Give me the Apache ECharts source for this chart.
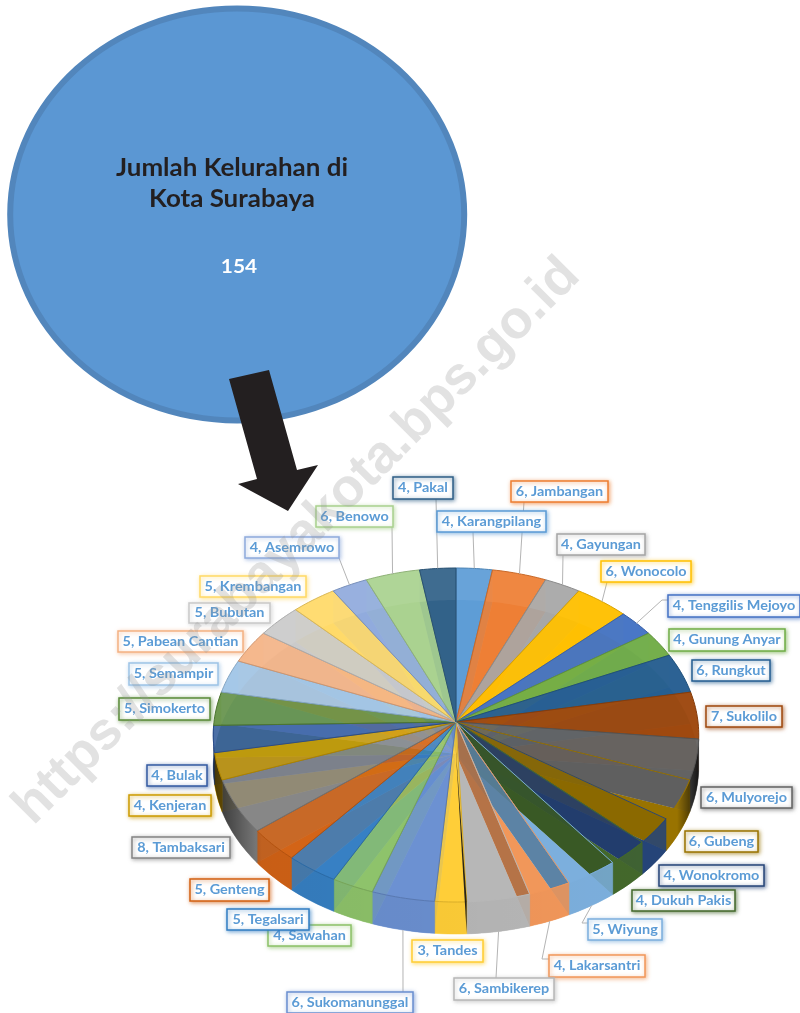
<!DOCTYPE html>
<html>
<head>
<meta charset="utf-8">
<style>html,body{margin:0;padding:0;background:#fff}#c{width:800px;height:1013px}</style>
<script src="https://cdn.jsdelivr.net/npm/echarts@6/dist/echarts.min.js"></script>
</head>
<body>
<div id="c"></div>
<script>
const districts = ["Karangpilang","Jambangan","Gayungan","Wonocolo","Tenggilis Mejoyo","Gunung Anyar","Rungkut","Sukolilo","Mulyorejo","Gubeng","Wonokromo","Dukuh Pakis","Wiyung","Lakarsantri","Sambikerep","Tandes","Sukomanunggal","Sawahan","Tegalsari","Genteng","Tambaksari","Kenjeran","Bulak","Simokerto","Semampir","Pabean Cantian","Bubutan","Krembangan","Asemrowo","Benowo","Pakal"];
const kelurahan = [4,6,4,6,4,4,6,7,6,6,4,4,5,4,6,3,6,4,5,5,8,4,4,5,5,5,5,5,4,6,4];
const titleLines = ["Jumlah Kelurahan di","Kota Surabaya"];
const totalLabel = "154";
const watermark = "https://surabayakota.bps.go.id";

const palette = ["#5B9BD5","#ED7D31","#A5A5A5","#FFC000","#4472C4","#70AD47","#255E91","#9E480E","#636363","#997300","#264478","#43682B","#7CAFDD","#F1975A","#B7B7B7","#FFCD33","#698ED0","#8CC168","#327DC2","#D26012","#848484","#CC9A00","#335AA1","#5A8A39","#9DC3E6","#F4B183","#C9C9C9","#FFD966","#8FAADC","#A9D18E","#2F5F87"];
// label box [x, y, w, h], optional leader attach [x, y] and elbow [x, y]
const labelBoxes = {
 Karangpilang:[437,511,109,21,[473,532]],Jambangan:[511,481,97,21,[524,502]],Gayungan:[557,534,88,21,[563,555]],
 Wonocolo:[601,561,90,21,[607,582]],"Tenggilis Mejoyo":[668,595,132,22,[668,600],[662,600]],"Gunung Anyar":[669,629,116,22],
 Rungkut:[692,660,78,21],Sukolilo:[706,706,76,21],Mulyorejo:[701,787,91,21],Gubeng:[685,831,73,21],Wonokromo:[659,865,105,21],
 "Dukuh Pakis":[632,890,103,21],Wiyung:[588,919,74,21,[588,923],[582,923]],Lakarsantri:[549,955,96,22,[549,959],[542,959]],
 Sambikerep:[454,978,100,22,[496,978]],Tandes:[412,940,71,22],Sukomanunggal:[287,992,126,21,[403,992]],Sawahan:[268,925,83,21],
 Tegalsari:[227,909,82,21],Genteng:[190,879,79,22],Tambaksari:[132,837,98,21],Kenjeran:[129,795,82,21],Bulak:[147,765,60,21],
 Simokerto:[119,698,91,22],Semampir:[129,663,89,22],"Pabean Cantian":[118,631,125,21],Bubutan:[189,603,81,20],Krembangan:[200,576,106,21],
 Asemrowo:[245,537,94,21,[339,558]],Benowo:[316,506,77,21,[392,527]],Pakal:[393,477,60,22,[436,499]]
};
const leaderDepth = {Sambikerep:1,Sukomanunggal:1,Lakarsantri:1,Wiyung:1};
// look of the see-through lower right part of the pie: top-face opacity and end-face shade
const topAlpha = {Wonocolo:.95,"Tenggilis Mejoyo":.96,"Gunung Anyar":.96,Rungkut:.96,Sukolilo:.96,Mulyorejo:.94,Gubeng:0,Wonokromo:0,"Dukuh Pakis":0,Wiyung:0,Lakarsantri:0,Sambikerep:.03};
const endFace = {Mulyorejo:.95,Gubeng:.9,Wonokromo:.9,"Dukuh Pakis":.85,Wiyung:.72,Lakarsantri:.72,Sambikerep:.1};

const CX=456,CY=722,RX=242,RY=166,P=0.0779,DEPTH=32;
const total = kelurahan.reduce((a,b)=>a+b,0);
function proj(a,d){const u=Math.sin(a),v=Math.cos(a),s=1/(1+P*v);return [CX+RX*u*s,CY-RY*v*s+(d||0)];}
function arc(a0,a1,d){const n=Math.max(2,Math.ceil((a1-a0)/0.02)),o=[];for(let i=0;i<=n;i++)o.push(proj(a0+(a1-a0)*i/n,d));return o;}
function rgba(h,al){const n=parseInt(h.slice(1),16);return `rgba(${n>>16},${(n>>8)&255},${n&255},${al})`;}
function shade(h,f,al){const n=parseInt(h.slice(1),16),c=[n>>16,(n>>8)&255,n&255].map(x=>Math.round(x*f));return `rgba(${c[0]},${c[1]},${c[2]},${al===undefined?1:al})`;}
const wallDark={type:'linear',x:213,y:0,x2:699,y2:0,global:true,colorStops:[{offset:0,color:'rgba(0,0,0,.65)'},{offset:.1,color:'rgba(0,0,0,.05)'},{offset:.955,color:'rgba(0,0,0,0)'},{offset:1,color:'rgba(0,0,0,.8)'}]};

function renderSlice(params,api){
 const i=params.dataIndex,name=districts[i],col=palette[i];
 let before=0;for(let k=0;k<i;k++)before+=kelurahan[k];
 const a0=before/total*2*Math.PI,a1=(before+api.value(0))/total*2*Math.PI,mid=(a0+a1)/2;
 const ch=[];
 const top=[[CX,CY]].concat(arc(a0,a1,0));
 const bottom=[[CX,CY+DEPTH]].concat(arc(a0,a1,DEPTH));
 const wall=arc(a0,a1,0).concat(arc(a0,a1,DEPTH).reverse());
 const front=Math.cos(mid)<0;
 const see=topAlpha[name]!==undefined&&topAlpha[name]<.5;
 const tA=topAlpha[name]!==undefined?topAlpha[name]:(i>=15&&i<24?0.84:0.89);
 ch.push({type:'polygon',z2:1,shape:{points:bottom},style:{fill:rgba(col,see||name==='Mulyorejo'?1:0.85),stroke:null}});
 if(endFace[name]!==undefined){
  const e=proj(a1,0),f=proj(a1,DEPTH);
  ch.push({type:'polygon',z2:name==='Sambikerep'?5.5:3,shape:{points:[[CX,CY+(name==='Sambikerep'?30:0)],e,f,[CX,CY+DEPTH]]},style:{fill:shade(col,endFace[name],.9),stroke:null}});
 }
 if(!front) ch.push({type:'polygon',z2:2,shape:{points:wall},style:{fill:rgba(col,0.3),stroke:null}});
 else {
  ch.push({type:'polygon',z2:4,shape:{points:wall},style:{fill:rgba(col,0.88),stroke:rgba(col,.9),lineWidth:.6}});
  ch.push({type:'polygon',z2:4.5,shape:{points:wall},style:{fill:wallDark,stroke:null}});
 }
 ch.push({type:'polygon',z2:5,shape:{points:top},style:{fill:rgba(col,tA),stroke:see?shade(col,1,.95):shade(col,.85),lineWidth:1}});
 // leader line
 const b=labelBoxes[name];
 if(b[4]){
  const pts=[proj(mid,leaderDepth[name]?DEPTH:0)];
  if(b[5])pts.push(b[5]);
  pts.push(b[4]);
  ch.push({type:'polyline',z2:6,shape:{points:pts},style:{stroke:'#b4b4b4',lineWidth:1,fill:null}});
 }
 // label box
 ch.push({type:'rect',z2:10+i,shape:{x:b[0],y:b[1],width:b[2],height:b[3]},
  style:{fill:'#fff',stroke:col,lineWidth:1.5,shadowBlur:4,shadowColor:rgba(col,.7),shadowOffsetX:1,shadowOffsetY:1}});
 ch.push({type:'text',z2:10+i,x:b[0]+b[2]/2,y:b[1]+b[3]/2,scaleX:1.11,style:{text:api.value(0)+', '+name,x:0,y:0,align:'center',verticalAlign:'middle',
  font:'bold 13px Lato',fill:'#5B9BD5'}});
 return {type:'group',children:ch};
}

const chart=echarts.init(document.getElementById('c'),null,{renderer:'canvas'});
chart.setOption({
 animation:false,
 backgroundColor:'#fff',
 graphic:{elements:[
  {type:'ellipse',z:0,shape:{cx:237.2,cy:214.5,rx:227,ry:206},style:{fill:'#5B97D3',stroke:'#5286BC',lineWidth:6}},
  {type:'text',z:1,x:232,y:168,scaleX:1.08,style:{text:titleLines[0],x:0,y:0,align:'center',verticalAlign:'middle',font:'bold 24px Lato',fill:'#231F20'}},
  {type:'text',z:1,x:232,y:199,scaleX:1.08,style:{text:titleLines[1],x:0,y:0,align:'center',verticalAlign:'middle',font:'bold 24px Lato',fill:'#231F20'}},
  {type:'text',z:1,x:239,y:267,scaleX:1.1,style:{text:totalLabel,x:0,y:0,align:'center',verticalAlign:'middle',font:'bold 19px Lato',fill:'#fff'}},
  {type:'polygon',z:1,shape:{points:[[229,379],[269,370],[297,470],[318,465],[288,511],[238,484],[257,479]]},style:{fill:'#231F20'}},
  {type:'text',z:50,silent:true,x:42,y:835,rotation:Math.PI/4,style:{text:watermark,x:0,y:0,align:'left',verticalAlign:'bottom',font:'bold 53.5px "Liberation Sans"',fill:'rgba(150,150,150,0.28)'}}
 ]},
 series:[{type:'custom',coordinateSystem:'none',z:2,silent:true,clip:false,
  data:kelurahan.map(v=>[v]),renderItem:renderSlice}]
});
</script>
</body>
</html>
